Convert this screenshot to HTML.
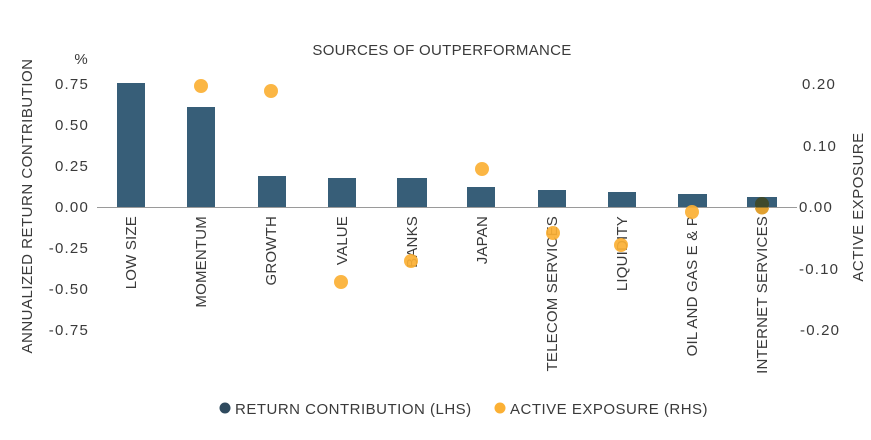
<!DOCTYPE html>
<html><head><style>
html,body{margin:0;padding:0;background:#fff;}
svg text{font-family:"Liberation Sans",sans-serif;fill:#3a3a3a;}
</style></head><body>
<svg width="871" height="435" viewBox="0 0 871 435" xmlns="http://www.w3.org/2000/svg">
<text x="442" y="55" text-anchor="middle" font-size="15" letter-spacing="0.3">SOURCES OF OUTPERFORMANCE</text>
<text x="81" y="64" text-anchor="middle" font-size="15">%</text>
<g font-size="15" text-anchor="end" letter-spacing="1.2">
<text x="89" y="89">0.75</text>
<text x="89" y="130">0.50</text>
<text x="89" y="171">0.25</text>
<text x="89" y="212">0.00</text>
<text x="89" y="253">-0.25</text>
<text x="89" y="294">-0.50</text>
<text x="89" y="335">-0.75</text>
</g>
<g font-size="15" text-anchor="start" letter-spacing="1.2">
<text x="802" y="89">0.20</text>
<text x="803" y="151">0.10</text>
<text x="799" y="212">0.00</text>
<text x="799" y="274">-0.10</text>
<text x="800" y="335">-0.20</text>
</g>
<text transform="translate(32,206) rotate(-90)" text-anchor="middle" font-size="15" letter-spacing="0.5">ANNUALIZED RETURN CONTRIBUTION</text>
<text transform="translate(863,207) rotate(-90)" text-anchor="middle" font-size="15" letter-spacing="0.5">ACTIVE EXPOSURE</text>
<g fill="#375e78">
<rect x="117" y="83" width="28" height="124"/>
<rect x="187" y="107" width="28" height="100"/>
<rect x="258" y="176" width="28" height="31"/>
<rect x="328" y="178" width="28" height="29"/>
<rect x="397" y="178" width="30" height="29"/>
<rect x="467" y="187" width="28" height="20"/>
<rect x="538" y="190" width="28" height="17"/>
<rect x="608" y="192" width="28" height="15"/>
<rect x="678" y="194" width="29" height="13"/>
<rect x="747" y="197" width="30" height="10"/>
</g>
<line x1="97" y1="207.5" x2="797" y2="207.5" stroke="#9a9a9a" stroke-width="1"/>
<g font-size="15" text-anchor="end" letter-spacing="0.2">
<text transform="translate(136,216) rotate(-90)">LOW SIZE</text>
<text transform="translate(206,216) rotate(-90)">MOMENTUM</text>
<text transform="translate(276,216) rotate(-90)">GROWTH</text>
<text transform="translate(347,216) rotate(-90)">VALUE</text>
<text transform="translate(417,216) rotate(-90)">BANKS</text>
<text transform="translate(487,216) rotate(-90)">JAPAN</text>
<text transform="translate(557,216) rotate(-90)">TELECOM SERVICES</text>
<text transform="translate(627,216) rotate(-90)">LIQUIDITY</text>
<text transform="translate(697,216) rotate(-90)">OIL AND GAS E &amp; P</text>
<text transform="translate(767,216) rotate(-90)">INTERNET SERVICES</text>
</g>
<g fill="#fbb034" fill-opacity="0.92">
<circle cx="201" cy="86" r="7"/>
<circle cx="271" cy="91" r="7"/>
<circle cx="341" cy="282" r="7"/>
<circle cx="411" cy="261" r="7"/>
<circle cx="482" cy="169" r="7"/>
<circle cx="553" cy="233" r="7"/>
<circle cx="621" cy="245" r="7"/>
<circle cx="692" cy="212" r="7"/>
</g>
<circle cx="762" cy="204" r="7" fill="#3f4a2c"/>
<path d="M755,207.5 A7,7 0 0 0 769,207.5 Z" fill="#e0a030"/>
<circle cx="225" cy="408" r="5.5" fill="#2f4a5e"/>
<text x="235" y="414" font-size="15" letter-spacing="0.5">RETURN CONTRIBUTION (LHS)</text>
<circle cx="500" cy="408" r="5.5" fill="#fbb034"/>
<text x="510" y="414" font-size="15" letter-spacing="0.5">ACTIVE EXPOSURE (RHS)</text>
</svg>
</body></html>
